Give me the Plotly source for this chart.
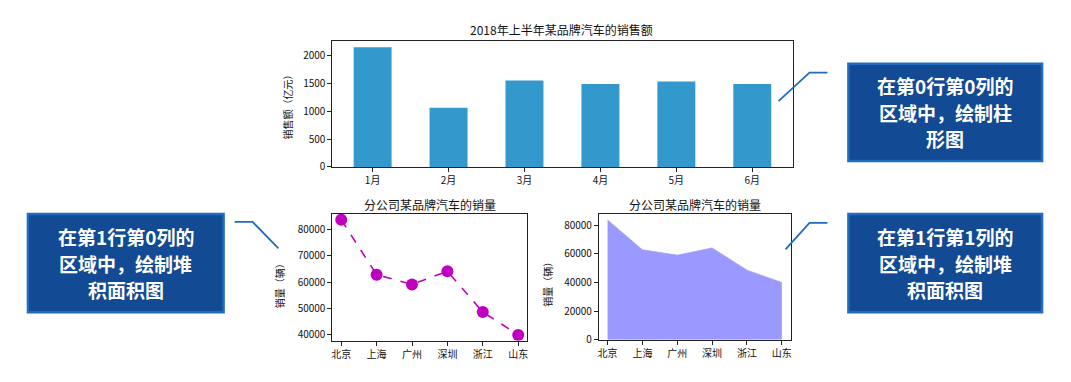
import plotly.graph_objects as go

W, H = 1071, 382

months = ["1月", "2月", "3月", "4月", "5月", "6月"]
sales_amount = [2158, 1068, 1557, 1493, 1540, 1493]

cities = ["北京", "上海", "广州", "深圳", "浙江", "山东"]
sales_volume = [83775, 62860, 59176, 64205, 48671, 39968]

top_title = "2018年上半年某品牌汽车的销售额"
sub_title = "分公司某品牌汽车的销量"
y_title_top = "销售额（亿元）"
y_title_bottom = "销量（辆）"

box_lines = [
    ["在第0行第0列的", "区域中，绘制柱", "形图"],
    ["在第1行第0列的", "区域中，绘制堆", "积面积图"],
    ["在第1行第1列的", "区域中，绘制堆", "积面积图"],
]

FONT = "Noto Sans CJK SC, DejaVu Sans, sans-serif"


def px_x(x):
    return x / W


def px_y(y):
    return 1 - y / H


fig = go.Figure()

fig.add_trace(go.Bar(x=months, y=sales_amount, width=0.5,
                     marker=dict(color="#3399CC", line=dict(width=0)),
                     xaxis="x", yaxis="y", showlegend=False))

fig.add_trace(go.Scatter(x=cities, y=sales_volume, mode="lines+markers",
                         line=dict(color="#BF00BF", dash="dash", width=1.6),
                         marker=dict(color="#BF00BF", size=12),
                         xaxis="x2", yaxis="y2", showlegend=False))

fig.add_trace(go.Scatter(x=cities, y=sales_volume, mode="lines",
                         fill="tozeroy", fillcolor="#9999FF",
                         line=dict(color="#A0A0FF", width=0.8),
                         xaxis="x3", yaxis="y3", showlegend=False))

axis_common = dict(showline=True, linecolor="#222222", linewidth=1, mirror=True,
                   ticks="outside", ticklen=4, tickcolor="#222222",
                   showgrid=False, zeroline=False, tickformat="d",
                   tickfont=dict(family=FONT, size=10, color="#111111"))

vmax = max(sales_volume)
vmin = min(sales_volume)
span = vmax - vmin

fig.update_layout(
    width=W, height=H, autosize=False,
    margin=dict(l=0, r=0, t=0, b=0),
    paper_bgcolor="white", plot_bgcolor="white",
    xaxis=dict(domain=[px_x(332), px_x(793)], anchor="y",
               range=[-0.53, 5.53], **axis_common),
    yaxis=dict(domain=[px_y(170), px_y(42)], anchor="x",
               range=[0, 2265], tickvals=[0, 500, 1000, 1500, 2000], **axis_common),
    xaxis2=dict(domain=[px_x(332), px_x(527)], anchor="y2",
                range=[-0.25, 5.25], **axis_common),
    yaxis2=dict(domain=[px_y(347), px_y(218)], anchor="x2",
                range=[vmin - 0.05 * span, vmax + 0.05 * span],
                tickvals=[40000, 50000, 60000, 70000, 80000], **axis_common),
    xaxis3=dict(domain=[px_x(599), px_x(791)], anchor="y3",
                range=[-0.25, 5.25], **axis_common),
    yaxis3=dict(domain=[px_y(346), px_y(218)], anchor="x3",
                range=[0, vmax * 1.05],
                tickvals=[0, 20000, 40000, 60000, 80000], **axis_common),
)

annotations = []
for (x, y, t) in [(562, 30, top_title), (430, 208, sub_title), (695, 208, sub_title)]:
    annotations.append(dict(x=px_x(x), y=px_y(y), xref="paper", yref="paper",
                            text=t, showarrow=False, xanchor="center", yanchor="middle",
                            font=dict(family=FONT, size=12, color="#111111")))
for (x, y, t) in [(287, 106, y_title_top), (279, 288, y_title_bottom), (548, 287, y_title_bottom)]:
    annotations.append(dict(x=px_x(x), y=px_y(y), xref="paper", yref="paper",
                            text=t, showarrow=False, textangle=-90,
                            xanchor="center", yanchor="middle",
                            font=dict(family=FONT, size=10, color="#111111")))

shapes = []
boxes = [(849, 65, 1043, 164), (27, 218, 223, 318), (849, 218, 1043, 318)]
for (x0, y0, x1, y1), lines in zip(boxes, box_lines):
    shapes.append(dict(type="rect", xref="paper", yref="paper",
                       x0=px_x(x0), x1=px_x(x1), y0=px_y(y1), y1=px_y(y0),
                       fillcolor="#124A93", line=dict(color="#1F6CC0", width=2.5)))
    cy = (y0 + y1) / 2
    for i, t in enumerate(lines):
        annotations.append(dict(x=px_x((x0 + x1) / 2), y=px_y(cy + (i - 1) * 27),
                                xref="paper", yref="paper", text="<b>" + t + "</b>",
                                showarrow=False, xanchor="center", yanchor="middle",
                                font=dict(family=FONT, size=19, color="white")))

connectors = [
    [(779, 103), (810, 74), (828, 74)],
    [(234, 226), (252, 226), (278, 253)],
    [(786, 254), (810, 227), (828, 227)],
]
for pts in connectors:
    path = "M " + " L ".join(f"{px_x(x)},{px_y(y)}" for x, y in pts)
    shapes.append(dict(type="path", xref="paper", yref="paper", path=path,
                       line=dict(color="#1F6CC0", width=1.8)))

fig.update_layout(annotations=annotations, shapes=shapes)

fig.write_html("out.html", config={"displayModeBar": False},
               post_script="document.body.style.margin='0';")
